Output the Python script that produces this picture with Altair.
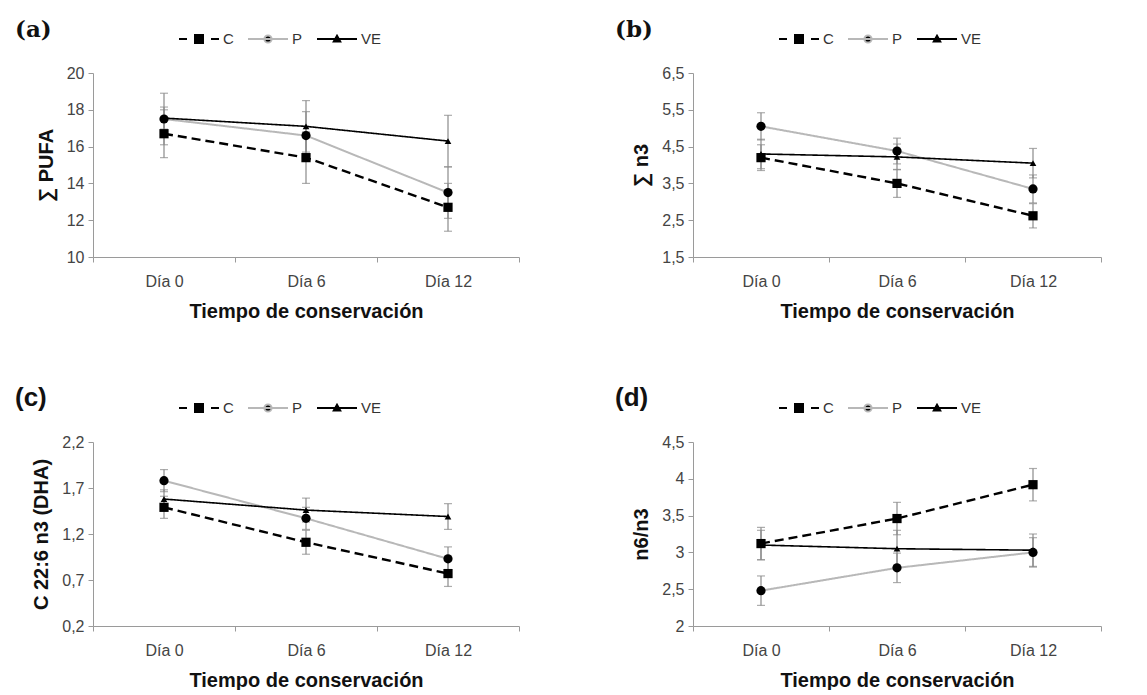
import altair as alt
import pandas as pd

days = ["Día 0", "Día 6", "Día 12"]
series = ["C", "P", "VE"]

# (a) sum PUFA
pufa_C = [16.7, 15.4, 12.7]
pufa_C_err = [1.3, 1.4, 1.3]
pufa_P = [17.5, 16.6, 13.5]
pufa_P_err = [1.4, 1.3, 1.4]
pufa_VE = [17.55, 17.1, 16.3]
pufa_VE_err = [0.6, 1.4, 1.4]

# (b) sum n3
n3_C = [4.2, 3.5, 2.62]
n3_C_err = [0.35, 0.38, 0.33]
n3_P = [5.05, 4.38, 3.35]
n3_P_err = [0.37, 0.35, 0.38]
n3_VE = [4.3, 4.22, 4.05]
n3_VE_err = [0.4, 0.35, 0.4]

# (c) DHA
dha_C = [1.49, 1.11, 0.77]
dha_C_err = [0.12, 0.13, 0.14]
dha_P = [1.78, 1.37, 0.93]
dha_P_err = [0.12, 0.12, 0.13]
dha_VE = [1.58, 1.46, 1.39]
dha_VE_err = [0.1, 0.13, 0.14]

# (d) n6/n3
r_C = [3.12, 3.46, 3.92]
r_C_err = [0.22, 0.22, 0.22]
r_P = [2.48, 2.79, 3.0]
r_P_err = [0.2, 0.2, 0.2]
r_VE = [3.1, 3.05, 3.03]
r_VE_err = [0.2, 0.25, 0.22]

series_colors = ["#000000", "#b8b8b8", "#000000"]
marker_shapes = {"C": ("square", 85), "P": ("circle", 85), "VE": ("triangle-up", 45)}
legend_paths = [
    "M-1,0H-0.6M-0.2,-0.2H0.2V0.2H-0.2ZM0.6,0H1",
    "M-1,0H1M-0.18,0A0.18,0.18 0 1,0 0.18,0A0.18,0.18 0 1,0 -0.18,0Z",
    "M-1,0H1M0,-0.16L0.16,0.12H-0.16Z",
]

AXIS_FONT = "Liberation Sans"


def make_df(vals, errs):
    rows = []
    for s in series:
        for i, d in enumerate(days):
            v = vals[s][i]
            e = errs[s][i]
            rows.append({"day": d, "series": s, "value": v, "lo": v - e, "hi": v + e})
    return pd.DataFrame(rows)


def panel(df, letter, letter_font, letter_size, ytitle, domain, ticks, width):
    x = alt.X(
        "day:N",
        sort=days,
        scale=alt.Scale(type="band", domain=days, paddingInner=0, paddingOuter=0),
        axis=alt.Axis(
            title="Tiempo de conservación",
            labelAngle=0,
            tickBand="extent",
            tickSize=5,
            labelPadding=11,
            titlePadding=12,
        ),
    )
    yscale = alt.Scale(domain=domain, nice=False, zero=False)
    yaxis = alt.Axis(
        title=ytitle,
        values=ticks,
        grid=False,
        tickSize=5,
        labelPadding=4,
        titlePadding=10,
        labelOverlap=False,
        labelExpr="replace(format(datum.value, '.1~f'), '.', ',')",
    )
    base = alt.Chart(df)

    err_rule = base.mark_rule(color="#8a8a8a", strokeWidth=1.2).encode(
        x=x, y=alt.Y("lo:Q", scale=yscale, axis=yaxis), y2="hi:Q"
    )
    err_lo = base.mark_tick(color="#8a8a8a", size=8, thickness=1.2).encode(
        x=x, y=alt.Y("lo:Q", scale=yscale, axis=yaxis)
    )
    err_hi = base.mark_tick(color="#8a8a8a", size=8, thickness=1.2).encode(
        x=x, y=alt.Y("hi:Q", scale=yscale, axis=yaxis)
    )

    lines = base.mark_line().encode(
        x=x,
        y=alt.Y("value:Q", scale=yscale, axis=yaxis),
        color=alt.Color(
            "series:N", scale=alt.Scale(domain=series, range=series_colors), legend=None
        ),
        strokeDash=alt.StrokeDash(
            "series:N",
            scale=alt.Scale(domain=series, range=[[9, 5], [1, 0], [1, 0]]),
            legend=None,
        ),
        strokeWidth=alt.StrokeWidth(
            "series:N", scale=alt.Scale(domain=series, range=[2.4, 1.6, 2.2]), legend=None
        ),
    )

    pts = []
    for s in series:
        shp, sz = marker_shapes[s]
        pts.append(
            base.transform_filter(alt.datum.series == s)
            .mark_point(shape=shp, size=sz, filled=True, color="#000000", opacity=1)
            .encode(x=x, y=alt.Y("value:Q", scale=yscale, axis=yaxis))
        )

    leg = (
        base.transform_filter(alt.datum.value < -1000)
        .mark_point(filled=True, opacity=1)
        .encode(
            x=x,
            y=alt.Y("value:Q", scale=yscale, axis=yaxis),
            shape=alt.Shape(
                "series:N",
                scale=alt.Scale(domain=series, range=legend_paths),
                legend=alt.Legend(
                    title=None,
                    orient="none",
                    direction="horizontal",
                    legendX=85,
                    legendY=-55,
                    symbolSize=1600,
                    symbolStrokeWidth=2,
                    symbolOpacity=1,
                    labelFontSize=15,
                    labelFont=AXIS_FONT,
                    labelColor="#333333",
                    columnPadding=10,
                    labelOffset=3,
                ),
            ),
            fill=alt.Fill(
                "series:N", scale=alt.Scale(domain=series, range=["#000000"] * 3)
            ),
            stroke=alt.Stroke(
                "series:N", scale=alt.Scale(domain=series, range=series_colors)
            ),
        )
    )

    return alt.layer(err_rule, err_lo, err_hi, lines, *pts, leg).properties(
        width=width,
        height=184,
        title=alt.TitleParams(
            letter,
            anchor="start",
            frame="group",
            font=letter_font,
            fontSize=letter_size,
            fontWeight="bold",
            color="#111111",
            dx=-78,
            offset=-24,
        ),
    )


pa = panel(
    make_df({"C": pufa_C, "P": pufa_P, "VE": pufa_VE},
            {"C": pufa_C_err, "P": pufa_P_err, "VE": pufa_VE_err}),
    "(a)", "DejaVu Serif", 23, "∑ PUFA", [10, 20], [10, 12, 14, 16, 18, 20], 426,
)
pb = panel(
    make_df({"C": n3_C, "P": n3_P, "VE": n3_VE},
            {"C": n3_C_err, "P": n3_P_err, "VE": n3_VE_err}),
    "(b)", "DejaVu Serif", 23, "∑ n3", [1.5, 6.5], [1.5, 2.5, 3.5, 4.5, 5.5, 6.5], 408,
)
pc = panel(
    make_df({"C": dha_C, "P": dha_P, "VE": dha_VE},
            {"C": dha_C_err, "P": dha_P_err, "VE": dha_VE_err}),
    "(c)", "Liberation Sans", 26, "C 22:6 n3 (DHA)", [0.2, 2.2], [0.2, 0.7, 1.2, 1.7, 2.2], 426,
)
pd_ = panel(
    make_df({"C": r_C, "P": r_P, "VE": r_VE},
            {"C": r_C_err, "P": r_P_err, "VE": r_VE_err}),
    "(d)", "Liberation Sans", 26, "n6/n3", [2, 4.5], [2, 2.5, 3, 3.5, 4, 4.5], 408,
)

res = dict(shape="independent", fill="independent", stroke="independent")
row1 = alt.hconcat(pa, pb, spacing=95).resolve_scale(**res).resolve_legend(**res)
row2 = alt.hconcat(pc, pd_, spacing=95).resolve_scale(**res).resolve_legend(**res)
chart = (
    alt.vconcat(row1, row2, spacing=64)
    .resolve_scale(**res)
    .resolve_legend(**res)
    .properties(padding={"left": 7, "top": 10, "right": 5, "bottom": 0})
    .configure_view(stroke=None)
    .configure_axis(
        domainColor="#9a9a9a",
        tickColor="#9a9a9a",
        labelColor="#444444",
        labelFont=AXIS_FONT,
        labelFontSize=16,
        titleFont=AXIS_FONT,
        titleFontSize=20,
        titleFontWeight="bold",
        titleColor="#111111",
    )
)

chart.save("out.html", embed_options={"renderer": "svg", "actions": False})
